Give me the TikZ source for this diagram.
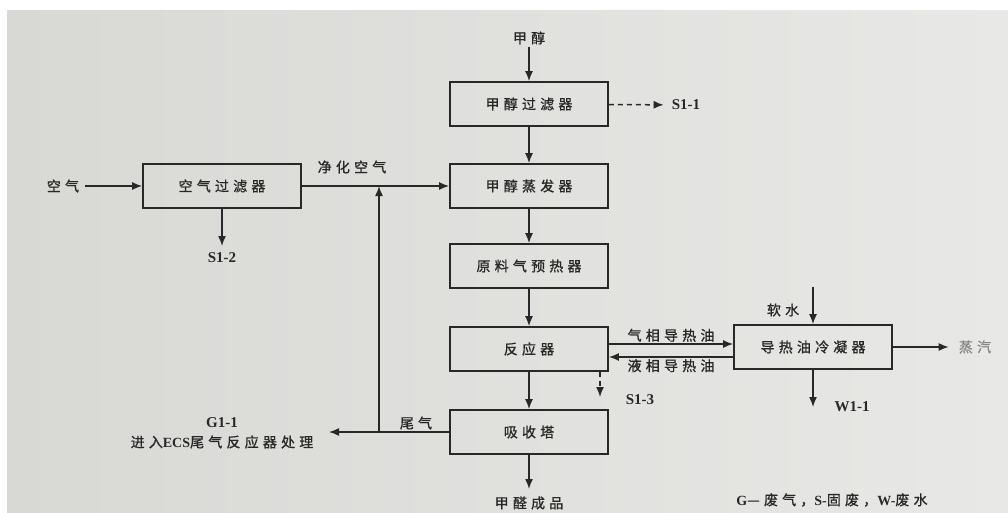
\documentclass[tikz,border=0pt]{standalone}
\usepackage{fontspec}
\setmainfont{Liberation Serif}
\newfontfamily\cjk[LetterSpace=30, FakeBold=1]{Noto Sans CJK SC}
\usepackage{xcolor}
\usetikzlibrary{positioning, arrows.meta, calc}
\definecolor{paper}{RGB}{216,217,213}
\definecolor{paperlt}{RGB}{232,232,230}
\definecolor{ink}{RGB}{40,40,40}

\begin{document}
\begin{tikzpicture}[
  x=1pt, y=-1pt,
  unit/.style={rectangle, draw=ink, line width=1.7pt, minimum width=158pt, minimum height=44pt, inner sep=0pt, font=\cjk\fontsize{14}{16}\selectfont, text=ink},
  lbl/.style={inner sep=2pt, font=\cjk\fontsize{14}{16}\selectfont, text=ink},
  code/.style={inner sep=2pt, font=\rmfamily\bfseries\fontsize{15}{17}\selectfont, text=ink},
  flow/.style={draw=ink, line width=1.5pt, -{Latex[length=10pt, width=8pt]}},
  drop/.style={flow, dash pattern=on 5pt off 4pt}
]
  \useasboundingbox (0,0) rectangle (1008,513);
  % 纸面
  \fill[white] (0,0) rectangle (1008,513);
  \shade[left color=paper, right color=paperlt] (7,11) rectangle (1008,513);

  % 设备
  \node[unit] (mf) at (529,104) {甲醇过滤器};
  \node[unit] (me) at (529,186) {甲醇蒸发器};
  \node[unit] (af) at (222,186) {空气过滤器};
  \node[unit] (ph) at (529,266) {原料气预热器};
  \node[unit] (rx) at (529,349) {反应器};
  \node[unit] (ab) at (529,432) {吸收塔};
  \node[unit] (cd) at (813,347) {导热油冷凝器};

  % 物料与排放
  \node[lbl] (meth) at (529,38) {甲醇};
  \node[code] (s11) at (686,105) {S1-1};
  \node[lbl] (air) at (63,186) {空气};
  \node[code] (s12) at (222,258) {S1-2};
  \node[lbl] (clean) at (352,167) {净化空气};
  \node[code] (s13) at (640,400) {S1-3};
  \node[lbl] (soft) at (783,310) {软水};
  \node[lbl, text=ink!55] (steam) at (975,347) {蒸汽};
  \node[code] (w11) at (852,407) {W1-1};
  \node[lbl] (prod) at (529,503) {甲醛成品};
  \node[code] (g11) at (222,423) {G1-1};
  \node[lbl] (ecs) at (222,442) {进入{\rmfamily\bfseries ECS}尾气反应器处理};
  \node[lbl] (tail) at (416,423) {尾气};
  \node[lbl] (legend) at (832,500) {{\rmfamily\bfseries G}—废气，{\rmfamily\bfseries S-}固废，{\rmfamily\bfseries W-}废水};

  \coordinate (s12end) at (222,246);
  \coordinate (s13end) at (600,397);
  \coordinate (swtop) at (813,287);
  \coordinate (w11end) at (813,407);
  \coordinate (prodend) at (529,489);
  \coordinate (g11end) at (329,432);
  \coordinate (jn) at (379,432);

  % 主流程
  \draw[flow] (meth) -- (mf);
  \draw[drop, shorten >=6pt] (mf) -- (s11);
  \draw[flow] (mf) -- (me);
  \draw[flow] (me) -- (ph);
  \draw[flow] (ph) -- (rx);
  \draw[flow] (rx) -- (ab);
  \draw[flow] (ab) -- (prodend);

  % 空气
  \draw[flow, shorten <=4pt] (air) -- (af);
  \draw[flow] (af) -- (s12end);
  \draw[flow] (af) -- (me);

  % 导热油
  \draw[flow] ([yshift=5pt]rx.east) -- ([yshift=5pt]rx.east -| cd.west);
  \draw[flow] ([yshift=-8pt]rx.east -| cd.west) -- ([yshift=-8pt]rx.east);
  \node[lbl, above=0pt of {$([yshift=5pt]rx.east)!0.5!([yshift=5pt]rx.east -| cd.west)$}] (gas) {气相导热油};
  \node[lbl, below=0pt of {$([yshift=-8pt]rx.east)!0.5!([yshift=-8pt]rx.east -| cd.west)$}] (liq) {液相导热油};
  \draw[drop] (s13end |- rx.south) -- (s13end);
  \draw[flow] (swtop) -- (cd);
  \draw[flow, shorten >=8pt] (cd) -- (steam);
  \draw[flow] (cd) -- (w11end);

  % 尾气
  \draw[flow] (ab) -- (g11end);
  \draw[flow] (jn) -- (jn |- af.east);
\end{tikzpicture}
\end{document}
